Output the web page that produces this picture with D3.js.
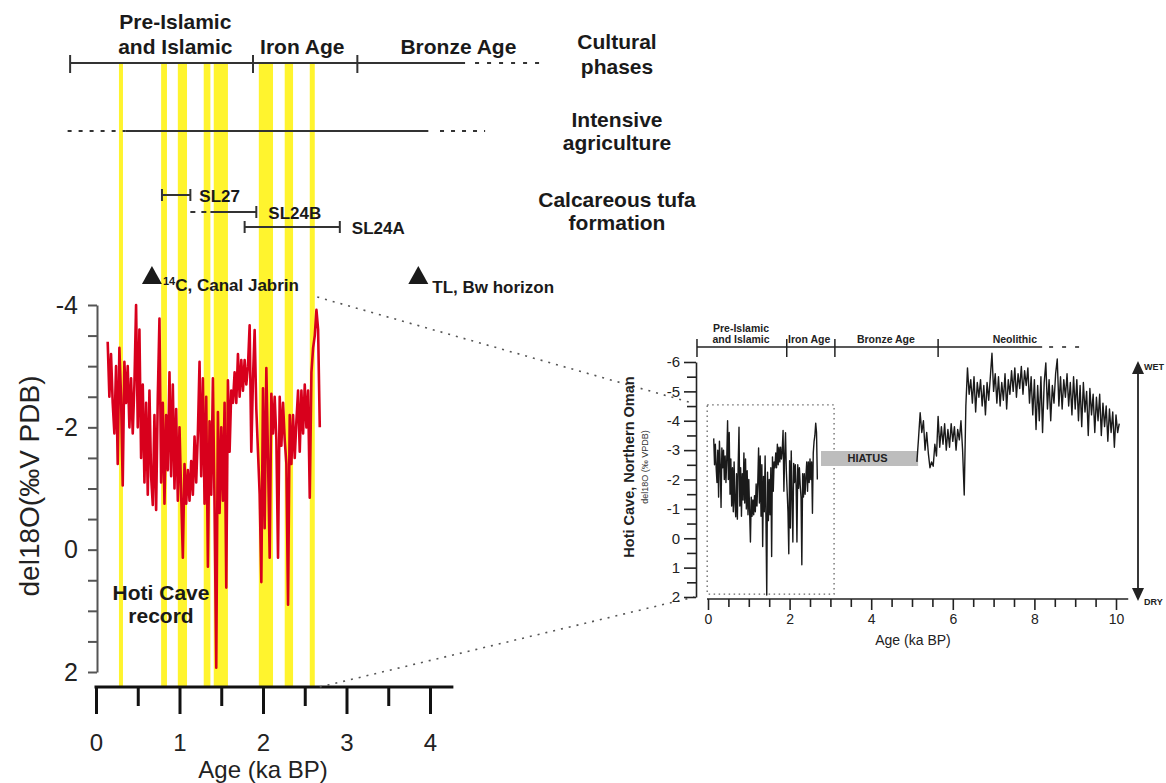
<!DOCTYPE html>
<html>
<head>
<meta charset="utf-8">
<script src="https://cdn.jsdelivr.net/npm/d3@7"></script>
<style>
  body { margin: 0; background: #fff; }
  svg { display: block; }
</style>
</head>
<body>
<script>
// Hoti Cave d18O record (permil VPDB), late Holocene part, one value every 0.02 ka from 0.14 ka
let lateStart = 0.14;
let lateStep = 0.02;
let lateD18O = [
  -3.4, -2.5, -3.2, -2.4, -1.9, -3.0, -1.4, -3.3, -2.5, -1.05,
  -3.07, -2.4, -3.0, -2.0, -2.8, -1.9, -2.7, -4.0, -2.0, -3.6,
  -1.5, -2.7, -1.1, -2.4, -0.9, -2.6, -1.2, -0.73, -2.2, -0.65,
  -2.5, -3.78, -1.1, -2.4, -0.75, -2.2, -1.3, -2.9, -1.2, -2.7,
  -1.0, -2.3, -0.8, -2.0, -0.9, 0.13, -1.4, -0.75, -1.3, -0.8,
  -1.45, -0.9, -1.85, -1.1, -1.9, -3.07, -1.2, -2.8, -0.75, -2.5,
  0.28, -2.1, -0.9, -2.8, -0.7, 1.93, -2.25, -0.6, -2.0, -0.8,
  -2.4, 0.62, -2.77, -1.6, -2.6, -2.4, -2.9, -2.4, -3.2, -2.5,
  -3.1, -2.6, -3.1, -2.7, -3.0, -3.67, -1.6, -2.8, -3.59, -2.3,
  -1.6, -0.9, 0.53, -2.64, -0.35, -2.97, -1.5, 0.13, -2.55, -1.9,
  -2.5, -1.8, 0.13, -2.5, -1.7, -2.4, -1.8, -1.4, 0.9, -2.2,
  -1.4, -2.2, -1.5, -2.1, -2.6, -1.6, -2.6, -1.9, -2.7, -2.0,
  -2.6, -0.85, -2.9, -3.3, -3.5, -3.92, -3.6, -2.0
];

// Early/mid Holocene part after the hiatus, one value every 0.04 ka from 5.12 ka
let earlyStart = 5.12;
let earlyStep = 0.04;
let earlyD18O = [
  -2.6, -3.4, -4.27, -3.6, -4.0, -3.0, -3.6, -2.9, -2.4, -2.6,
  -2.45, -3.2, -2.8, -4.15, -3.1, -3.8, -3.2, -3.9, -3.0, -3.7,
  -3.1, -3.9, -3.3, -3.8, -3.0, -3.7, -3.35, -4.0, -3.0, -1.47,
  -4.5, -5.8, -4.9, -5.4, -4.6, -5.5, -4.3, -5.3, -4.8, -5.4,
  -4.5, -5.2, -4.2, -5.3, -4.7, -5.5, -6.3, -5.0, -5.6, -4.6,
  -5.5, -4.5, -5.3, -4.7, -5.6, -4.4, -5.4, -4.9, -5.7, -5.0,
  -5.8, -4.8, -5.6, -5.1, -5.85, -4.9, -5.7, -5.2, -5.8, -4.6,
  -5.5, -4.2, -5.4, -3.7, -5.2, -4.0, -5.5, -3.6, -5.3, -5.97,
  -4.4, -5.4, -4.0, -5.2, -4.6, -5.6, -6.1, -4.5, -5.5, -4.4,
  -5.4, -4.8, -5.6, -4.5, -5.3, -4.2, -5.5, -4.4, -5.4, -4.0,
  -5.2, -3.8, -5.3, -4.3, -5.0, -3.5, -5.1, -4.2, -4.9, -3.6,
  -4.8, -4.0, -4.9, -3.5, -4.6, -3.8, -4.5, -3.3, -4.4, -3.6,
  -4.3, -3.1, -4.2, -3.6, -3.9
];

// Wet intervals shown as yellow bands (ka BP)
let wetBands = [[0.275, 0.323], [0.78, 0.85], [0.98, 1.09], [1.29, 1.37],
                [1.41, 1.58], [1.95, 2.12], [2.26, 2.36], [2.56, 2.62]];

// Cultural phases in the main panel (ka BP)
let mainPhaseTicks = [-0.31, 1.88, 3.13];
let mainPhaseSolid = [-0.31, 4.42];
let mainPhaseDotted = [4.42, 5.32];
let mainPhaseNames = [['Pre-Islamic', 'and Islamic'], ['Iron Age'], ['Bronze Age']];
let mainPhaseAt = [0.95, 2.47, 4.34];

// Intensive agriculture (ka BP)
let agriDotted = [[-0.34, 0.35], [4.12, 4.66]];
let agriSolid = [0.35, 3.98];

// Calcareous tufa formation (ka BP)
let tufaNames = ['SL27', 'SL24B', 'SL24A'];
let tufaRanges = [[0.79, 1.13], [1.37, 1.92], [1.78, 2.92]];
let tufaDashed = [null, [1.13, 1.37], null];

// Dated horizons
let dateNames = ['C, Canal Jabrin', 'TL, Bw horizon'];
let dateAges = [0.67, 3.86];

// Cultural phases in the inset (ka BP)
let insetPhaseTicks = [-0.27, 1.93, 3.11, 5.64];
let insetPhaseSolid = [-0.27, 8.19];
let insetPhaseDashed = [8.36, 9.22];
let insetPhaseNames = [['Pre-Islamic', 'and Islamic'], ['Iron Age'], ['Bronze Age'], ['Neolithic']];
let insetPhaseAt = [0.81, 2.48, 4.36, 7.52];

// Hiatus and the zoomed window of the inset
let hiatus = [2.77, 5.15];
let hiatusBand = [-2.97, -2.46];
let zoomAges = [-0.02, 3.09];
let zoomValues = [-4.54, 1.9];

let FONT = "'Liberation Sans', Arial, Helvetica, sans-serif";

let svg = d3.select('body').append('svg')
    .attr('width', 1166).attr('height', 783)
    .attr('font-family', FONT);

// Scales
let mainX = d3.scaleLinear().domain([0, 4]).range([96, 430]);
let mainY = d3.scaleLinear().domain([-4, 2]).range([305, 672]);
let insetX = d3.scaleLinear().domain([0, 10]).range([708, 1116]);
let insetY = d3.scaleLinear().domain([-6, 2]).range([362, 597]);

let lateSeries = lateD18O.map((v, i) => ({age: lateStart + i * lateStep, v: v}));
let earlySeries = earlyD18O.map((v, i) => ({age: earlyStart + i * earlyStep, v: v}));

// ---------- main panel ----------

// Yellow bands
svg.selectAll('rect.wet').data(wetBands).enter().append('rect')
    .attr('class', 'wet')
    .attr('x', d => mainX(d[0]))
    .attr('width', d => mainX(d[1]) - mainX(d[0]))
    .attr('y', 63)
    .attr('height', 687 - 63)
    .attr('fill', '#fff42e');

// Cultural phases line
svg.append('line')
    .attr('x1', mainX(mainPhaseSolid[0])).attr('x2', mainX(mainPhaseSolid[1]))
    .attr('y1', 63).attr('y2', 63)
    .attr('stroke', '#333').attr('stroke-width', 2);
svg.append('line')
    .attr('x1', mainX(mainPhaseDotted[0]) + 10).attr('x2', mainX(mainPhaseDotted[1]))
    .attr('y1', 63).attr('y2', 63)
    .attr('stroke', '#333').attr('stroke-width', 2).attr('stroke-dasharray', '4,8');
svg.selectAll('line.ptick').data(mainPhaseTicks).enter().append('line')
    .attr('x1', d => mainX(d)).attr('x2', d => mainX(d))
    .attr('y1', 55).attr('y2', 73)
    .attr('stroke', '#333').attr('stroke-width', 2);
mainPhaseNames.forEach((lines, i) => {
  lines.forEach((t, j) => {
    svg.append('text')
        .attr('x', mainX(mainPhaseAt[i]))
        .attr('y', 54 - (lines.length - 1 - j) * 25)
        .attr('text-anchor', 'middle')
        .attr('font-size', 21).attr('font-weight', 'bold').attr('fill', '#1a1a1a')
        .text(t);
  });
});

// Intensive agriculture line
svg.selectAll('line.agd').data(agriDotted).enter().append('line')
    .attr('x1', d => mainX(d[0])).attr('x2', d => mainX(d[1]))
    .attr('y1', 131).attr('y2', 131)
    .attr('stroke', '#333').attr('stroke-width', 2).attr('stroke-dasharray', '4,7');
svg.append('line')
    .attr('x1', mainX(agriSolid[0])).attr('x2', mainX(agriSolid[1]))
    .attr('y1', 131).attr('y2', 131)
    .attr('stroke', '#333').attr('stroke-width', 2);

// Tufa ranges
let tufaY = [195, 212, 227];
tufaRanges.forEach((r, i) => {
  let y = tufaY[i];
  svg.append('line')
      .attr('x1', mainX(r[0])).attr('x2', mainX(r[1]))
      .attr('y1', y).attr('y2', y)
      .attr('stroke', '#333').attr('stroke-width', 2);
  svg.append('line')
      .attr('x1', mainX(r[1])).attr('x2', mainX(r[1]))
      .attr('y1', y - 6).attr('y2', y + 6)
      .attr('stroke', '#333').attr('stroke-width', 2);
  if (tufaDashed[i]) {
    svg.append('line')
        .attr('x1', mainX(tufaDashed[i][0])).attr('x2', mainX(tufaDashed[i][1]))
        .attr('y1', y).attr('y2', y)
        .attr('stroke', '#333').attr('stroke-width', 2).attr('stroke-dasharray', '5,6');
  } else {
    svg.append('line')
        .attr('x1', mainX(r[0])).attr('x2', mainX(r[0]))
        .attr('y1', y - 6).attr('y2', y + 6)
        .attr('stroke', '#333').attr('stroke-width', 2);
  }
  svg.append('text')
      .attr('x', mainX(r[1]) + (i === 0 ? 9 : 12)).attr('y', y + 7)
      .attr('font-size', 17).attr('font-weight', 'bold').attr('fill', '#1a1a1a')
      .text(tufaNames[i]);
});

// Right column labels
let sideLabels = [['Cultural', 49], ['phases', 74], ['Intensive', 127], ['agriculture', 150],
                  ['Calcareous tufa', 207], ['formation', 230]];
svg.selectAll('text.side').data(sideLabels).enter().append('text')
    .attr('class', 'side')
    .attr('x', 617).attr('y', d => d[1])
    .attr('text-anchor', 'middle')
    .attr('font-size', 21).attr('font-weight', 'bold').attr('fill', '#1a1a1a')
    .text(d => d[0]);

// Dated horizons (triangles)
svg.selectAll('path.tri').data(dateAges).enter().append('path')
    .attr('d', d => {
      let x = mainX(d);
      return `M${x},266 L${x + 10},284 L${x - 10},284 Z`;
    })
    .attr('fill', '#1a1a1a');
let d14 = svg.append('text')
    .attr('x', mainX(dateAges[0]) + 11).attr('y', 291)
    .attr('font-size', 17).attr('font-weight', 'bold').attr('fill', '#1a1a1a');
d14.append('tspan').attr('font-size', 11).attr('dy', -6).text('14');
d14.append('tspan').attr('dy', 6).text(dateNames[0]);
svg.append('text')
    .attr('x', mainX(dateAges[1]) + 14).attr('y', 293)
    .attr('font-size', 17).attr('font-weight', 'bold').attr('fill', '#1a1a1a')
    .text(dateNames[1]);

// Red isotope record
let mainLine = d3.line().x(d => mainX(d.age)).y(d => mainY(d.v));
svg.append('path').datum(lateSeries)
    .attr('d', mainLine)
    .attr('fill', 'none')
    .attr('stroke', '#d8001c')
    .attr('stroke-width', 2.6)
    .attr('stroke-linejoin', 'round');

// Main y axis
let mainYAxis = d3.axisLeft(mainY)
    .tickValues(d3.range(-4, 2.01, 0.5))
    .tickSize(9).tickSizeOuter(0).tickPadding(10)
    .tickFormat(d => d % 2 === 0 ? String(d) : '');
let gy = svg.append('g').attr('transform', 'translate(97,0)').call(mainYAxis)
    .attr('font-family', FONT).attr('font-size', 25);
gy.select('.domain').attr('stroke', '#555').attr('stroke-width', 2);
gy.selectAll('.tick line').attr('stroke', '#555').attr('stroke-width', 2);
gy.selectAll('.tick text').attr('fill', '#222');

// Main x axis
let mainXAxis = d3.axisBottom(mainX)
    .tickValues(d3.range(0, 4.01, 0.5))
    .tickSize(27).tickPadding(20)
    .tickFormat(d => Number.isInteger(d) ? String(d) : '');
let gx = svg.append('g').attr('transform', 'translate(0,687)').call(mainXAxis)
    .attr('font-family', FONT).attr('font-size', 24);
gx.select('.domain').remove();
gx.selectAll('.tick line')
    .attr('y2', d => Number.isInteger(d) ? 27 : 19)
    .attr('stroke', '#111').attr('stroke-width', 3);
gx.selectAll('.tick text').attr('fill', '#222');
svg.append('line')
    .attr('x1', mainX(0) - 1.5).attr('x2', mainX(4.28))
    .attr('y1', 687).attr('y2', 687)
    .attr('stroke', '#111').attr('stroke-width', 3);

// Axis titles
svg.append('text')
    .attr('x', 263).attr('y', 778)
    .attr('text-anchor', 'middle')
    .attr('font-size', 24).attr('fill', '#222')
    .text('Age (ka BP)');
svg.append('text')
    .attr('transform', 'translate(39,486) rotate(-90)')
    .attr('text-anchor', 'middle')
    .attr('font-size', 28).attr('fill', '#222')
    .text('del18O(‰V PDB)');

// Record label
svg.append('text').attr('x', 161).attr('y', 600).attr('text-anchor', 'middle')
    .attr('font-size', 21).attr('font-weight', 'bold').attr('fill', '#1a1a1a').text('Hoti Cave');
svg.append('text').attr('x', 161).attr('y', 623).attr('text-anchor', 'middle')
    .attr('font-size', 21).attr('font-weight', 'bold').attr('fill', '#1a1a1a').text('record');

// ---------- connectors to the inset ----------
let connectors = [
  [[mainX(2.65), mainY(-4.13)], [insetX(-0.37), insetY(-4.6)]],
  [[mainX(2.68), 687], [insetX(-0.33), insetY(2.0)]]
];
svg.selectAll('line.conn').data(connectors).enter().append('line')
    .attr('x1', d => d[0][0]).attr('y1', d => d[0][1])
    .attr('x2', d => d[1][0]).attr('y2', d => d[1][1])
    .attr('stroke', '#555').attr('stroke-width', 1.6)
    .attr('stroke-dasharray', '2,6');

// ---------- inset panel ----------

// Cultural phases
svg.append('line')
    .attr('x1', insetX(insetPhaseSolid[0])).attr('x2', insetX(insetPhaseSolid[1]))
    .attr('y1', 347).attr('y2', 347)
    .attr('stroke', '#222').attr('stroke-width', 1.5);
svg.append('line')
    .attr('x1', insetX(insetPhaseDashed[0])).attr('x2', insetX(insetPhaseDashed[1]))
    .attr('y1', 347).attr('y2', 347)
    .attr('stroke', '#222').attr('stroke-width', 1.5).attr('stroke-dasharray', '4,9');
svg.selectAll('line.iptick').data(insetPhaseTicks).enter().append('line')
    .attr('x1', d => insetX(d)).attr('x2', d => insetX(d))
    .attr('y1', 339).attr('y2', 357)
    .attr('stroke', '#222').attr('stroke-width', 1.5);
insetPhaseNames.forEach((lines, i) => {
  lines.forEach((t, j) => {
    svg.append('text')
        .attr('x', insetX(insetPhaseAt[i]))
        .attr('y', 343 - (lines.length - 1 - j) * 11.5)
        .attr('text-anchor', 'middle')
        .attr('font-size', 10.5).attr('font-weight', 'bold').attr('fill', '#222')
        .text(t);
  });
});

// Zoomed window (dotted box)
svg.append('rect')
    .attr('x', insetX(zoomAges[0])).attr('width', insetX(zoomAges[1]) - insetX(zoomAges[0]))
    .attr('y', insetY(zoomValues[0])).attr('height', insetY(zoomValues[1]) - insetY(zoomValues[0]))
    .attr('fill', 'none').attr('stroke', '#666').attr('stroke-width', 1.3)
    .attr('stroke-dasharray', '1.5,3.5');

// Hiatus
svg.append('rect')
    .attr('x', insetX(hiatus[0])).attr('width', insetX(hiatus[1]) - insetX(hiatus[0]))
    .attr('y', insetY(hiatusBand[0])).attr('height', insetY(hiatusBand[1]) - insetY(hiatusBand[0]))
    .attr('fill', '#bdbdbd');
svg.append('text')
    .attr('x', insetX((hiatus[0] + hiatus[1]) / 2) - 2).attr('y', insetY(hiatusBand[1]) - 3.5)
    .attr('text-anchor', 'middle')
    .attr('font-size', 11).attr('font-weight', 'bold').attr('fill', '#222')
    .text('HIATUS');

// Black isotope record
let insetLine = d3.line().x(d => insetX(d.age)).y(d => insetY(d.v));
[lateSeries, earlySeries].forEach(s => {
  svg.append('path').datum(s)
      .attr('d', insetLine)
      .attr('fill', 'none')
      .attr('stroke', '#1a1a1a')
      .attr('stroke-width', 1.4)
      .attr('stroke-linejoin', 'round');
});

// Inset y axis
let insetYAxis = d3.axisLeft(insetY)
    .tickValues(d3.range(-6, 2.01, 0.5))
    .tickSize(12).tickSizeOuter(0).tickPadding(4)
    .tickFormat(d => Number.isInteger(d) ? String(d) : '');
let igy = svg.append('g').attr('transform', 'translate(696,0)').call(insetYAxis)
    .attr('font-family', FONT).attr('font-size', 15);
igy.select('.domain').attr('stroke', '#222').attr('stroke-width', 1.6);
igy.selectAll('.tick line')
    .attr('x2', d => Number.isInteger(d) ? -12 : -9)
    .attr('stroke', '#222').attr('stroke-width', 1.6);
igy.selectAll('.tick text').attr('fill', '#222');

// Inset x axis
let insetXAxis = d3.axisBottom(insetX)
    .tickValues(d3.range(0, 10.01, 0.5))
    .tickSize(11).tickSizeOuter(0).tickPadding(4)
    .tickFormat(d => d % 2 === 0 ? String(d) : '');
let igx = svg.append('g').attr('transform', 'translate(0,599)').call(insetXAxis)
    .attr('font-family', FONT).attr('font-size', 14);
igx.select('.domain').remove();
igx.selectAll('.tick line')
    .attr('y2', d => d % 2 === 0 ? 11 : 8)
    .attr('stroke', '#222').attr('stroke-width', 1.6);
igx.selectAll('.tick text').attr('fill', '#222');
svg.append('line')
    .attr('x1', insetX(0) - 1).attr('x2', insetX(10.3))
    .attr('y1', 599).attr('y2', 599)
    .attr('stroke', '#222').attr('stroke-width', 1.6);

// Inset titles
svg.append('text')
    .attr('x', 913).attr('y', 645)
    .attr('text-anchor', 'middle')
    .attr('font-size', 14).attr('fill', '#222')
    .text('Age (ka BP)');
svg.append('text')
    .attr('transform', 'translate(634,467) rotate(-90)')
    .attr('text-anchor', 'middle')
    .attr('font-size', 14.5).attr('font-weight', 'bold').attr('fill', '#222')
    .text('Hoti Cave, Northern Oman');
svg.append('text')
    .attr('transform', 'translate(648,467) rotate(-90)')
    .attr('text-anchor', 'middle')
    .attr('font-size', 9).attr('fill', '#333')
    .text('del18O  (‰ VPDB)');

// Wet / dry arrow
svg.append('line')
    .attr('x1', 1138).attr('x2', 1138).attr('y1', 372).attr('y2', 590)
    .attr('stroke', '#222').attr('stroke-width', 1.8);
svg.append('path').attr('d', 'M1138,361 L1144,374 L1132,374 Z').attr('fill', '#222');
svg.append('path').attr('d', 'M1138,601 L1144,588 L1132,588 Z').attr('fill', '#222');
svg.append('text').attr('x', 1144).attr('y', 370)
    .attr('font-size', 9).attr('font-weight', 'bold').attr('fill', '#222').text('WET');
svg.append('text').attr('x', 1144).attr('y', 605)
    .attr('font-size', 9).attr('font-weight', 'bold').attr('fill', '#222').text('DRY');
</script>
</body>
</html>
